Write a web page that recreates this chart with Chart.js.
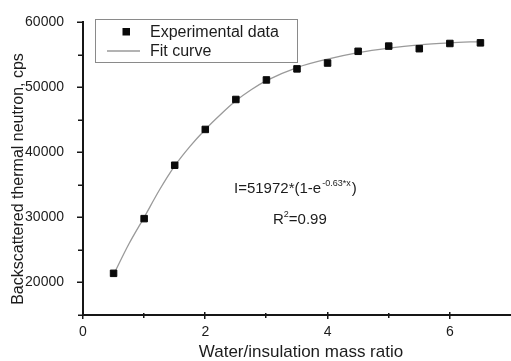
<!DOCTYPE html>
<html>
<head>
<meta charset="utf-8">
<script src="https://cdn.jsdelivr.net/npm/chart.js@4/dist/chart.umd.min.js"></script>
<style>
  html, body { margin: 0; padding: 0; background: #fff; }
  #wrap { width: 511px; height: 361px; }
</style>
</head>
<body>
<div id="wrap"><canvas id="c" width="511" height="361"></canvas></div>
<script>
// Measured backscattered thermal neutron counts vs. water/insulation mass ratio
const massRatio = [0.5, 1.0, 1.5, 2.0, 2.5, 3.0, 3.5, 4.0, 4.5, 5.0, 5.5, 6.0, 6.5];
const neutronCounts = [21400, 29800, 38000, 43500, 48100, 51100, 52800, 53700, 55500, 56300, 55900, 56700, 56800];

// Fitted saturation curve, sampled along the ratio axis
const fitRatio = [0.5, 0.75, 1.0, 1.25, 1.5, 1.75, 2.0, 2.25, 2.5, 2.75, 3.0, 3.5, 4.0, 4.5, 5.0, 5.5, 6.0, 6.5];
const fitCounts = [21200, 25900, 30000, 34200, 37900, 40900, 43500, 45800, 47900, 49600, 51000, 53000, 54300, 55300, 56000, 56500, 56800, 57000];

// Tick values that carry a label (the rest are minor ticks)
const xTickLabels = [0, 2, 4, 6];
const yTickLabels = [20000, 30000, 40000, 50000, 60000];

const seriesNames = ['Experimental data', 'Fit curve'];
const fitEquation = { lead: 'I=51972*(1-e', power: '-0.63*x', tail: ')' };
const fitQuality = 'R²=0.99';
const xTitle = 'Water/insulation mass ratio';
const yTitle = 'Backscattered thermal neutron, cps';

const FONT = '"Liberation Sans", Arial, sans-serif';
const INK = '#1c1c1c';
const AXIS = '#161616';

const decor = {
  id: 'decor',
  afterDraw(chart) {
    const { ctx, chartArea: a, scales: { x, y } } = chart;
    ctx.save();

    // tick marks: long on labelled ticks, short on the minor ones
    ctx.fillStyle = AXIS;
    x.ticks.forEach(t => {
      if (t.value >= x.max) return;
      const px = Math.round(x.getPixelForValue(t.value));
      const major = xTickLabels.includes(t.value);
      ctx.fillRect(px - 1, a.bottom - (major ? 3 : 2), 1.5, major ? 7 : 5);
    });
    y.ticks.forEach(t => {
      const py = Math.round(y.getPixelForValue(t.value));
      const major = yTickLabels.includes(t.value);
      ctx.fillRect(a.left - (major ? 6 : 5), py - 0.5, major ? 7 : 5, 1.5);
    });

    ctx.fillStyle = INK;

    // axis titles
    ctx.font = '17px ' + FONT;
    ctx.textAlign = 'center';
    ctx.textBaseline = 'alphabetic';
    ctx.fillText(xTitle, 301, 357);

    ctx.save();
    ctx.translate(23, 179);
    ctx.rotate(-Math.PI / 2);
    ctx.font = '16px ' + FONT;
    ctx.fillText(yTitle, 0, 0);
    ctx.restore();

    // fit equation with exponent
    ctx.textAlign = 'left';
    ctx.font = '15px ' + FONT;
    let ex = 234;
    const eb = 193;
    ctx.fillText(fitEquation.lead, ex, eb);
    ex += ctx.measureText(fitEquation.lead).width;
    ctx.font = '9px ' + FONT;
    ctx.fillText(fitEquation.power, ex + 1, eb - 7);
    ex += ctx.measureText(fitEquation.power).width + 2;
    ctx.font = '15px ' + FONT;
    ctx.fillText(fitEquation.tail, ex, eb);

    // coefficient of determination
    let rx = 273;
    const rb = 224;
    ctx.fillText('R', rx, rb);
    rx += ctx.measureText('R').width;
    ctx.font = '9px ' + FONT;
    ctx.fillText('2', rx, rb - 7);
    rx += ctx.measureText('2').width;
    ctx.font = '15px ' + FONT;
    ctx.fillText(fitQuality.slice(2), rx, rb);

    // legend box
    const pts = chart.data.datasets[0];
    const fit = chart.data.datasets[1];
    ctx.strokeStyle = '#8a8a8a';
    ctx.lineWidth = 1;
    ctx.strokeRect(95.5, 19.5, 202, 43);

    ctx.fillStyle = pts.backgroundColor;
    ctx.fillRect(122.5, 28, 7.5, 7.5);

    ctx.strokeStyle = fit.borderColor;
    ctx.lineWidth = fit.borderWidth;
    ctx.beginPath();
    ctx.moveTo(107, 51);
    ctx.lineTo(140, 51);
    ctx.stroke();

    ctx.fillStyle = INK;
    ctx.font = '16px ' + FONT;
    ctx.fillText(pts.label, 150, 36.5);
    ctx.fillText(fit.label, 150, 56);

    ctx.restore();
  }
};

new Chart(document.getElementById('c'), {
  type: 'scatter',
  data: {
    datasets: [
      {
        label: seriesNames[0],
        data: massRatio.map((v, i) => ({ x: v, y: neutronCounts[i] })),
        pointStyle: 'rect',
        pointRadius: 4.6,
        pointBorderWidth: 1,
        backgroundColor: '#0a0a0a',
        borderColor: '#0a0a0a',
        showLine: false
      },
      {
        label: seriesNames[1],
        data: fitRatio.map((v, i) => ({ x: v, y: fitCounts[i] })),
        showLine: true,
        pointRadius: 0,
        borderColor: '#9a9a9a',
        backgroundColor: '#9a9a9a',
        borderWidth: 1.3,
        cubicInterpolationMode: 'monotone',
        fill: false
      }
    ]
  },
  options: {
    responsive: false,
    animation: false,
    devicePixelRatio: 1,
    layout: { autoPadding: false, padding: { top: 22, right: 0, left: 0, bottom: 0 } },
    plugins: { legend: { display: false }, tooltip: { enabled: false } },
    scales: {
      x: {
        type: 'linear',
        min: 0,
        max: 7,
        grid: { display: false },
        border: { display: true, width: 2, color: AXIS },
        ticks: {
          stepSize: 1,
          padding: 1,
          color: INK,
          font: { family: FONT, size: 14 },
          autoSkip: false,
          maxRotation: 0,
          callback: v => (xTickLabels.includes(v) ? String(v) : '')
        },
        afterFit: s => { s.height = 46; s.paddingLeft = 0; s.paddingRight = 0; }
      },
      y: {
        type: 'linear',
        min: 15000,
        max: 60000,
        grid: { display: false },
        border: { display: true, width: 2, color: AXIS },
        ticks: {
          stepSize: 5000,
          padding: 11,
          color: INK,
          font: { family: FONT, size: 14 },
          autoSkip: false,
          callback: v => (yTickLabels.includes(v) ? String(v) : '')
        },
        afterFit: s => { s.width = 83; }
      }
    }
  },
  plugins: [decor]
});
</script>
</body>
</html>
